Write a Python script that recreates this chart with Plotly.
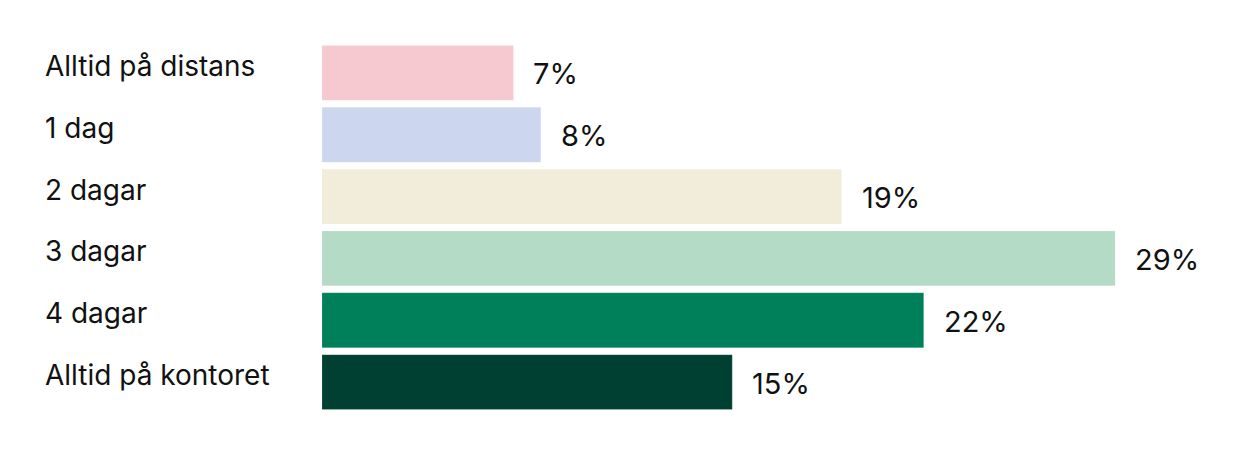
import plotly.graph_objects as go

categories = ["Alltid på distans", "1 dag", "2 dagar", "3 dagar", "4 dagar", "Alltid på kontoret"]
values = [7, 8, 19, 29, 22, 15]
colors = ["#F6C8D0", "#CCD6EE", "#F2ECDA", "#B4DBC6", "#00805A", "#004033"]

W, H = 1240, 452
OFF = 8  # page body offset
ml, mr, mt, mb = 322 - OFF, 0, 41.5 - OFF, 452 - (413.5 - OFF)
pw = W - ml - mr
px_per = 27.35
xmax = pw / px_per

fig = go.Figure()
fig.add_trace(go.Bar(
    x=values, y=categories, orientation="h",
    marker=dict(color=colors, line=dict(color="rgba(255,255,255,0.3)", width=0.5)),
    hoverinfo="skip",
))

FONT = "Inter"
ann = []
for c, v in zip(categories, values):
    ann.append(dict(x=-(ml - (43 - OFF)) / pw, xref="paper", y=c, yref="y", text=c,
                    showarrow=False, xanchor="left", yanchor="middle", yshift=7,
                    font=dict(family=FONT, size=28, color="#111111")))
    ann.append(dict(x=v, xref="x", y=c, yref="y", text=f"{v}%",
                    showarrow=False, xanchor="left", yanchor="middle", xshift=18, yshift=-1,
                    font=dict(family=FONT, size=29, color="#111111")))

fig.update_layout(
    width=W, height=H,
    margin=dict(l=ml, r=mr, t=mt, b=mb),
    paper_bgcolor="white", plot_bgcolor="white",
    bargap=7 / 62,
    showlegend=False,
    xaxis=dict(range=[0, xmax], visible=False, fixedrange=True),
    yaxis=dict(autorange="reversed", visible=False, fixedrange=True),
    annotations=ann,
)
fig.write_html("out.html")
